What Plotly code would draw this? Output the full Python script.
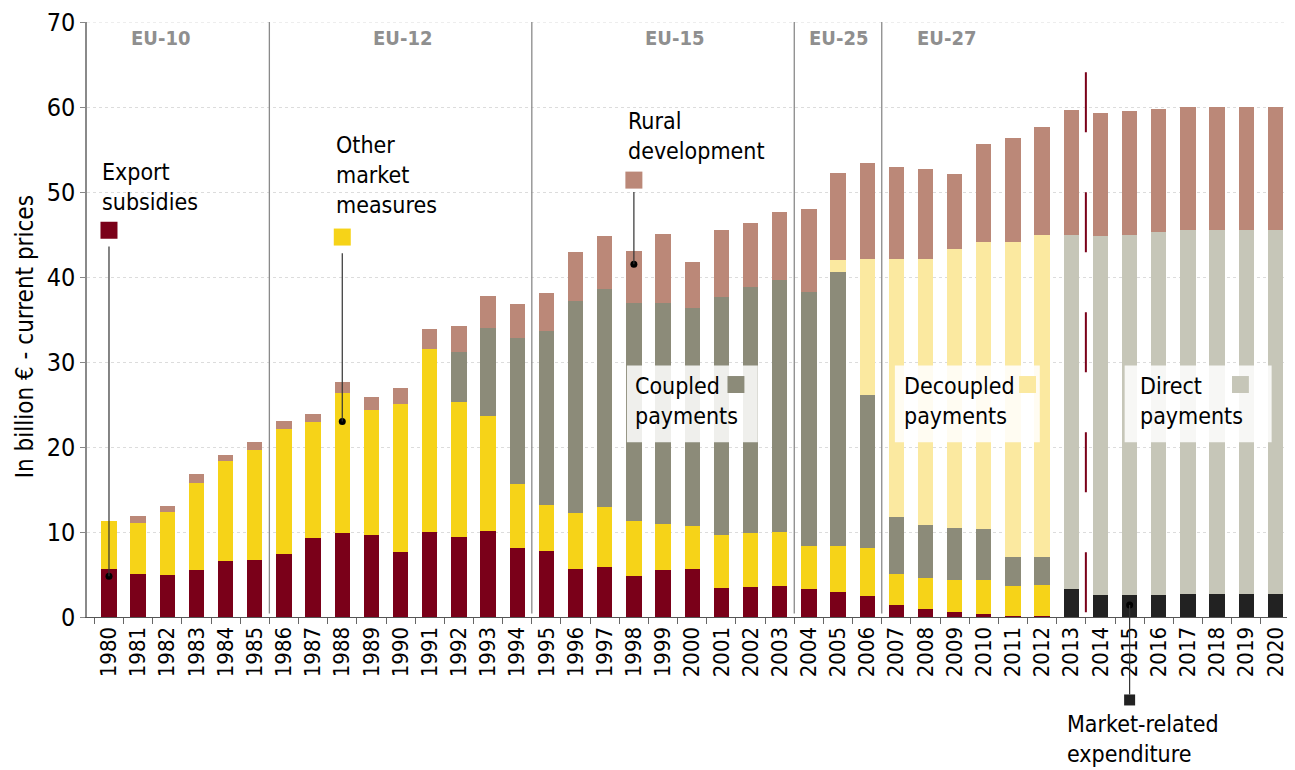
import plotly.graph_objects as go

years = [str(y) for y in range(1980, 2021)]

# segment heights, billion EUR
export_subsidies = [5.7, 5.1, 5.0, 5.5, 6.6, 6.7, 7.4, 9.3, 9.9, 9.7, 7.7, 10.0, 9.4, 10.1, 8.1, 7.8,
                    5.7, 5.9, 4.8, 5.5, 5.6, 3.4, 3.5, 3.7, 3.3, 3.0, 2.5, 1.4, 0.9, 0.6, 0.4, 0.1,
                    0.1, 0, 0, 0, 0, 0, 0, 0, 0]
other_market = [5.6, 6.0, 7.4, 10.3, 11.7, 13.0, 14.7, 13.7, 16.5, 14.7, 17.4, 21.5, 15.9, 13.6, 7.6, 5.4,
                6.5, 7.0, 6.5, 5.5, 5.1, 6.3, 6.4, 6.3, 5.1, 5.4, 5.6, 3.7, 3.7, 3.7, 4.0, 3.5,
                3.7, 0, 0, 0, 0, 0, 0, 0, 0]
coupled = [0, 0, 0, 0, 0, 0, 0, 0, 0, 0, 0, 0, 5.9, 10.3, 17.1, 20.4,
           25.0, 25.7, 25.6, 25.9, 25.6, 28.0, 28.9, 29.7, 29.8, 32.2, 18.0, 6.7, 6.2, 6.2, 5.9, 3.5,
           3.3, 0, 0, 0, 0, 0, 0, 0, 0]
decoupled = [0] * 25 + [1.4, 16.0, 30.3, 31.3, 32.8, 33.8, 37.0, 37.8, 0, 0, 0, 0, 0, 0, 0, 0]
market_related = [0] * 33 + [3.3, 2.6, 2.6, 2.6, 2.7, 2.7, 2.7, 2.7]
direct = [0] * 33 + [41.6, 42.2, 42.4, 42.7, 42.8, 42.8, 42.8, 42.8]
rural = [0, 0.8, 0.7, 1.0, 0.8, 0.9, 1.0, 0.9, 1.2, 1.5, 1.9, 2.4, 3.0, 3.8, 4.0, 4.5,
         5.8, 6.2, 6.2, 8.2, 5.5, 7.8, 7.5, 7.9, 9.8, 10.2, 11.3, 10.9, 10.6, 8.8, 11.5, 12.3,
         12.8, 14.8, 14.5, 14.5, 14.5, 14.5, 14.5, 14.5, 14.5]

y_ticks = [0, 10, 20, 30, 40, 50, 60, 70]

eras = ["EU-10", "EU-12", "EU-15", "EU-25", "EU-27"]
era_start = ["1980", "1986", "1995", "2004", "2007"]
era_label_x = [1.78, 10.05, 19.39, 25.03, 28.72]

C_EXPORT = "#7a0019"
C_OTHER = "#f6d318"
C_COUPLED = "#8c8b79"
C_DECOUPLED = "#fbe9a0"
C_DIRECT = "#c6c6b8"
C_RURAL = "#bb8878"
C_MARKET = "#222222"

COND = "DejaVu Sans Condensed, sans-serif"

X_MIN, X_MAX = -0.754, 40.5
Y_MAX = 70


def paper_x(i):
    return (i - X_MIN) / (X_MAX - X_MIN)


def paper_y(v):
    return v / Y_MAX


fig = go.Figure()

series = [
    ("Market-related expenditure", market_related, C_MARKET),
    ("Export subsidies", export_subsidies, C_EXPORT),
    ("Other market measures", other_market, C_OTHER),
    ("Coupled payments", coupled, C_COUPLED),
    ("Decoupled payments", decoupled, C_DECOUPLED),
    ("Direct payments", direct, C_DIRECT),
    ("Rural development", rural, C_RURAL),
]
for name, vals, col in series:
    fig.add_trace(go.Bar(x=years, y=vals, name=name, marker=dict(color=col, line=dict(width=0)),
                         hoverinfo="name+y"))

shapes = []

# top gridline (plotly leaves it out at the edge)
shapes.append(dict(type="line", xref="paper", yref="y", x0=0, x1=1, y0=y_ticks[-1], y1=y_ticks[-1],
                   line=dict(color="#dcdcdc", width=1, dash="dot"), layer="below"))

# era separators
for yr in era_start[1:]:
    i = years.index(yr) - 0.5
    shapes.append(dict(type="line", xref="x", yref="y", x0=i, x1=i, y0=0.4, y1=70,
                       line=dict(color="#8a8a8a", width=1.3)))

# dashed line before the new programming period
i_dash = years.index("2014") - 0.5
shapes.append(dict(type="line", xref="x", yref="y", x0=i_dash, x1=i_dash, y0=64.1, y1=0.45,
                   line=dict(color=C_EXPORT, width=2, dash="60px,60px")))

# white label boxes
boxes = [
    ("Coupled<br>payments", 17.76, 22.25, 17.96, 21.5, C_COUPLED),
    ("Decoupled<br>payments", 26.95, 31.92, 27.2, 31.5, C_DECOUPLED),
    ("Direct<br>payments", 34.83, 39.87, 35.3, 38.8, C_DIRECT),
]
for txt, bx0, bx1, tx, sx, col in boxes:
    shapes.append(dict(type="rect", xref="x", yref="y", x0=bx0, x1=bx1, y0=20.55, y1=29.6,
                       fillcolor="rgba(255,255,255,0.86)", line=dict(width=0), layer="above"))
    shapes.append(dict(type="rect", xref="x", yref="y", x0=sx - 0.29, x1=sx + 0.29,
                       y0=27.35 - 1.0, y1=27.35 + 1.0, fillcolor=col, line=dict(width=0), layer="above"))

# callouts: text, text x, text y, year, square y, line top, dot value, colour, square size(px)
callouts = [
    ("Export<br>subsidies", -0.31, 50.6, "1980", 45.5, 43.6, 4.8, C_EXPORT, 17),
    ("Other<br>market<br>measures", 7.71, 52.0, "1988", 44.7, 42.8, 23.0, C_OTHER, 17),
    ("Rural<br>development", 17.72, 56.6, "1998", 51.4, 50.0, 41.5, C_RURAL, 17),
    ("Market-related<br>expenditure", 32.78, -14.3, "2015", -9.76, 1.4, 1.4, C_MARKET, 11),
]
dot_x, dot_y = [], []
for txt, tx, ty, yr, sq_y, l_top, dot_v, col, sz in callouts:
    i = years.index(yr)
    hw = sz / 2 / 29.16
    hh = sz / 2 / 8.5
    shapes.append(dict(type="rect", xref="paper", yref="paper",
                       x0=paper_x(i - hw), x1=paper_x(i + hw),
                       y0=paper_y(sq_y - hh), y1=paper_y(sq_y + hh),
                       fillcolor=col, line=dict(width=0), layer="above"))
    if l_top > dot_v:
        y_a, y_b = l_top, dot_v
    else:
        y_a, y_b = dot_v, sq_y + hh
    shapes.append(dict(type="line", xref="paper", yref="paper", x0=paper_x(i), x1=paper_x(i),
                       y0=paper_y(y_a), y1=paper_y(y_b), line=dict(color="#333", width=1.2),
                       layer="above"))
    dot_x.append(yr)
    dot_y.append(dot_v)

fig.add_trace(go.Scatter(x=dot_x, y=dot_y, mode="markers", cliponaxis=False, showlegend=False,
                         hoverinfo="skip", marker=dict(color="black", size=7)))

annotations = []
for name, x in zip(eras, era_label_x):
    annotations.append(dict(x=x, y=68.1, xref="x", yref="y", text="<b>%s</b>" % name, showarrow=False,
                            font=dict(family=COND, size=20, color="#8f8f8f"), xanchor="center"))
for txt, bx0, bx1, tx, sx, col in boxes:
    annotations.append(dict(x=tx, y=25.4, xref="x", yref="y", text=txt, showarrow=False, align="left",
                            xanchor="left", yanchor="middle",
                            font=dict(family=COND, size=23, color="black")))
for txt, tx, ty, yr, sq_y, l_top, dot_v, col, sz in callouts:
    annotations.append(dict(x=paper_x(tx), y=paper_y(ty), xref="paper", yref="paper", text=txt,
                            showarrow=False, align="left", xanchor="left", yanchor="middle",
                            font=dict(family=COND, size=23, color="black")))

# y axis title, placed by hand (it sits a little below the middle in the original)
annotations.append(dict(x=-62 / 1203, y=0.47, xref="paper", yref="paper", textangle=-90,
                        text="In billion € - current prices", showarrow=False,
                        xanchor="center", yanchor="middle",
                        font=dict(family=COND, size=24, color="black")))

# the page body adds an 8px offset, so the figure is 8px smaller on each side
fig.update_layout(
    width=1287, height=762,
    margin=dict(l=79, r=5, t=14, b=153),
    barmode="stack", bargap=0.475,
    plot_bgcolor="white", paper_bgcolor="white",
    showlegend=False,
    shapes=shapes, annotations=annotations,
    font=dict(family=COND, color="black"),
)
fig.update_xaxes(
    type="category", range=[X_MIN, X_MAX], tickangle=-90, tickson="boundaries",
    tickmode="array", tickvals=years, ticktext=years,
    ticks="outside", ticklen=6, tickcolor="#666", showline=True, linecolor="#555", linewidth=1.2,
    showgrid=False, tickfont=dict(family=COND, size=22, color="black"), automargin=False,
)
fig.update_yaxes(
    range=[0, Y_MAX], tickmode="array", tickvals=y_ticks, ticks="outside", ticklen=5, tickcolor="#888",
    showline=True, linecolor="#8a8a8a", linewidth=1.5, zeroline=False,
    showgrid=True, gridcolor="#dcdcdc", griddash="dot", ticklabeloverflow="allow",
    tickfont=dict(family=COND, size=25, color="black"),
    automargin=False,
)

fig.write_html("out.html")
